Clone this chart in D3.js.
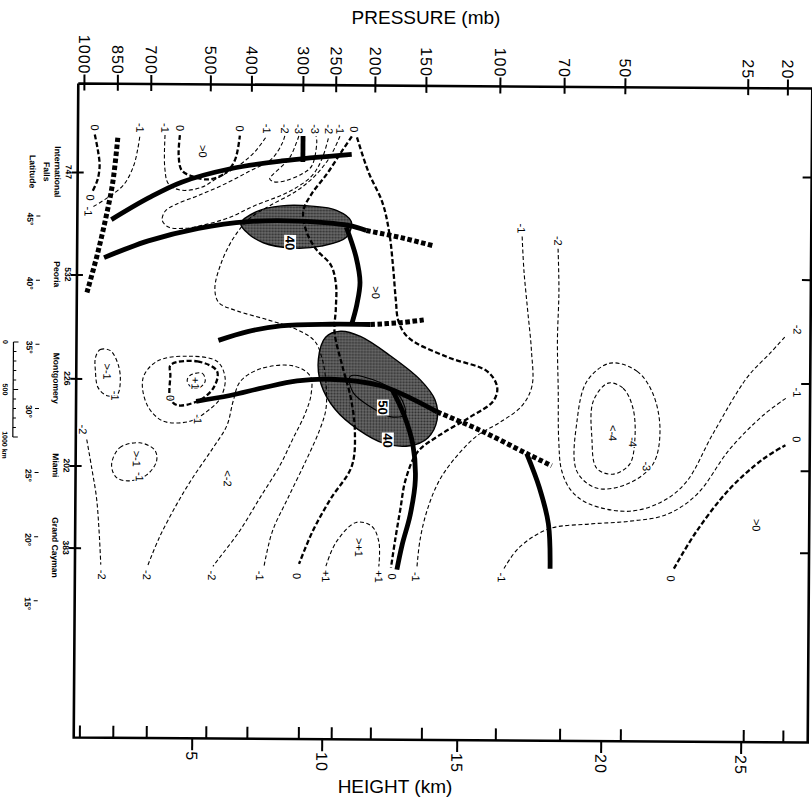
<!DOCTYPE html>
<html>
<head>
<meta charset="utf-8">
<script src="https://cdn.jsdelivr.net/npm/d3@7/dist/d3.min.js"></script>
<style>
  html, body { margin: 0; padding: 0; background: #fff; }
  svg { display: block; }
  text { font-family: "Liberation Sans", Arial, sans-serif; fill: #000; }
</style>
</head>
<body>
<svg id="chart" width="812" height="803"></svg>
<script>
// ---------- Axis data ----------
const pressureLevels   = [1000, 850, 700, 500, 400, 300, 250, 200, 150, 100, 70, 50, 25, 20];
const pressureHeightKm = [1.0, 2.19, 3.38, 5.54, 7.12, 9.1, 10.35, 11.8, 13.69, 16.34, 18.57, 20.7, 25.09, 26.54];
const heightTicksKm    = [5, 10, 15, 20, 25];
const stationIds   = ["747", "532", "226", "202", "383"];
const stationNames = [["International", "Falls"], ["Peoria"], ["Montgomery"], ["Miami"], ["Grand Cayman"]];
const stationLat   = [48.7, 40.7, 32.6, 25.8, 19.4];
const latitudeTicks = [45, 40, 35, 30, 25, 20, 15];
const distanceTicksKm = [0, 500, 1000];
const kmPerDegree = 135;

// ---------- Fronts / tropopause segments: [height km, latitude] ----------
const frontUpper      = [[2.01,45.0],[3.33,46.71],[4.5,47.96],[6.38,49.05],[8.31,49.67],[10.96,50.22]];
const frontUpperBreak = [[9.12,51.62],[9.12,49.6]];
const frontLower      = [[1.76,42.03],[3.33,43.36],[5.12,44.37],[7.04,44.92],[8.96,44.99],[10.85,44.68],[11.52,44.29]];
const frontLowerExt   = [[11.52,44.29],[12.81,43.75],[14.04,43.12]];
const frontLink       = [[10.78,44.53],[11.15,42.19],[11.3,40.24],[11.19,38.52],[11.0,36.96]];
const frontMid        = [[5.92,35.64],[7.04,36.34],[8.31,36.81],[10.22,36.96],[11.7,36.96]];
const frontMidExt     = [[11.7,36.96],[12.81,37.12],[13.67,37.35]];
const frontSouth      = [[5.08,30.88],[6.38,31.35],[7.65,31.97],[8.96,32.52],[10.22,32.67],[12.07,32.21],[13.26,31.19],[14.19,30.18]];
const frontSouthExt   = [[14.19,30.18],[15.73,28.78],[17.36,26.98],[18.23,26.05]];
const tropoDrop       = [[12.52,31.9],[12.96,29.95],[13.3,27.61],[13.4,24.88],[13.22,22.15],[12.93,19.81],[12.74,17.86]];
const tropoSouth      = [[17.36,26.98],[17.81,24.33],[18.13,21.52],[18.2,18.01]];
const surfaceFront    = [[2.22,51.39],[2.05,47.88],[1.8,44.99],[1.51,42.19],[1.16,39.3]];

// ---------- Jet cores (shaded, m/s) ----------
const jetCoreNorth = [[6.75,44.76],[7.35,45.7],[8.31,46.16],[9.46,46.16],[10.41,45.85],[10.96,44.99],[10.78,43.75],[9.85,43.05],[8.69,42.89],[7.62,43.28],[7.04,43.98]];
const jetCoreSouth = [[10.04,35.95],[10.59,36.42],[11.33,36.03],[12.44,34.54],[13.56,32.67],[14.11,31.11],[14.19,29.56],[13.85,28.15],[13.19,27.53],[12.26,27.68],[11.26,28.78],[10.41,30.33],[9.88,32.28],[9.77,34.23]];
const jetCoreSouthInner = [[10.96,32.91],[12.07,32.44],[12.81,31.35],[13.0,29.95],[12.44,29.79],[11.7,30.57],[11.07,31.66]];
const jetLabels = [[8.65,43.28,"40"],[12.18,30.49,"50"],[12.37,27.92,"40"]];

// ---------- Isolines ----------
const iso0_a  = [[1.40,51.62],[1.51,50.45],[1.58,49.21],[1.51,48.11],[1.33,47.18]];
const isoM1_a = [[1.37,46.01],[1.87,46.71],[2.44,47.72],[2.79,49.21],[2.94,50.61],[3.01,51.62]];
const isoM1_b = [[3.90,51.62],[3.90,49.05],[4.04,47.8],[4.5,47.33],[5.23,47.57],[5.81,48.27],[6.65,49.28],[7.27,50.37],[7.73,51.62]];
const iso0_b  = [[4.43,51.62],[4.39,50.06],[4.5,48.89],[4.86,48.43],[5.5,48.19],[6.12,48.66],[6.5,49.67],[6.69,51.62]];
const isoM2_a = [[8.42,51.62],[8.31,51.0],[7.92,49.83],[7.04,48.82],[6.0,47.72],[5.04,46.87],[4.32,46.24],[3.93,45.7],[3.82,44.99],[4.04,44.45],[4.68,44.37],[5.42,44.68],[6.31,45.23],[7.27,46.16],[8.58,47.26],[9.46,48.5],[9.85,49.83],[10.11,51.62]];
const isoM3_a = [[8.96,51.62],[8.88,51.16],[8.58,49.83],[7.92,48.5],[7.85,48.27],[8.0,48.04],[8.42,48.11],[9.08,48.66],[9.46,49.28],[9.65,51.16],[9.62,51.62]];
const isoM1_c = [[10.52,51.62],[10.15,49.99],[9.58,48.5],[8.88,47.33],[7.85,46.16],[7.08,45.15],[6.46,43.59],[6.0,41.64],[5.77,39.69],[5.92,38.6],[6.58,37.98],[7.81,37.27],[8.96,36.5],[9.62,35.64],[9.92,34.23],[10.07,32.28],[10.07,30.33],[9.85,28.78],[9.35,26.44],[8.62,23.32],[8.04,20.74],[7.73,18.01]];
const iso0_c  = [[10.96,51.62],[10.59,50.45],[10.04,48.66],[9.46,47.1],[9.15,45.77],[9.27,44.21],[9.65,42.81],[10.22,41.56],[10.41,40.08],[10.41,38.13],[10.37,36.34],[10.67,33.69],[11.0,31.11],[11.15,28.55],[11.04,25.89],[10.26,23.32],[9.58,20.74],[9.08,18.25]];
const iso0_d  = [[11.15,51.55],[11.59,48.82],[12.11,46.48],[12.37,44.14],[12.52,41.49],[12.63,38.91],[12.74,37.2],[13.11,35.95],[14.56,34.46],[15.97,33.37],[16.32,32.13],[16.18,31.04],[15.38,29.79],[14.3,28.39],[13.48,27.06],[13.04,24.88],[12.85,22.54],[12.67,20.2],[12.52,18.01]];
const isoP1_a = [[10.11,18.09],[10.48,19.96],[11.22,21.52],[11.81,21.21],[12.07,19.96],[12.07,18.09]];
const isoM1_d = [[17.15,43.9],[17.22,41.25],[17.36,38.13],[17.5,35.01],[17.53,32.28],[17.19,30.72],[16.42,29.4],[15.66,28.39],[14.96,26.83],[14.3,24.88],[13.85,22.54],[13.59,20.2],[13.48,18.01]];
const isoM2_b = [[18.4,42.97],[18.44,39.69],[18.4,35.79],[18.44,31.89],[18.47,28.0],[18.58,25.66],[18.92,24.1],[19.55,23.08],[20.96,22.54],[22.14,23.32],[23.0,24.88],[23.93,28.62],[25.15,33.06],[26.0,35.0],[26.56,36.34]];
const isoM1_e = [[16.6,18.01],[17.12,19.65],[18.16,21.13],[19.55,21.52],[20.96,21.76],[22.29,22.3],[23.36,23.86],[24.54,27.45],[25.74,30.1],[26.56,31.43]];
const iso0_e  = [[22.57,18.09],[23.36,20.98],[24.54,24.33],[25.74,26.67],[26.56,27.77]];
const isoM3_b = [[20.25,34.08],[21.21,33.45],[21.79,31.66],[22.04,28.78],[21.79,26.2],[20.86,24.64],[19.79,24.33],[19.1,25.66],[19.1,29.56],[19.44,32.67]];
const isoM4_a = [[20.18,32.52],[20.71,32.13],[21.07,30.57],[21.14,28.0],[20.96,26.2],[20.36,25.42],[19.79,25.89],[19.62,28.23],[19.66,31.11]];
const isoM2_c = [[3.4,18.09],[3.79,20.2],[4.39,22.77],[4.96,24.88],[5.73,27.22],[6.27,29.01],[6.5,30.88],[6.77,32.44],[7.54,33.45],[8.81,33.69],[9.46,32.91],[9.5,31.5],[9.27,29.95],[8.81,28.0],[8.31,25.89],[7.54,23.32],[6.77,20.74],[6.0,18.64],[5.77,18.01]];
const isoM1_f = [[3.18,32.67],[3.68,33.99],[4.75,34.39],[5.88,33.99],[6.19,32.67],[6.0,31.11],[5.5,30.1],[4.86,29.32],[3.9,29.32],[3.33,30.57]];
const iso0_f  = [[4.15,33.69],[5.12,33.99],[5.88,33.22],[5.73,31.89],[5.12,30.88],[4.39,30.57],[4.15,31.11],[4.15,32.91]];
const isoP1_b = [[4.86,32.91],[5.31,33.06],[5.42,32.44],[5.15,31.89],[4.86,32.05],[4.75,32.52]];
const isoM1_g = [[1.48,34.23],[1.65,34.86],[2.01,34.78],[2.29,33.69],[2.37,32.44],[2.26,31.35],[1.9,31.27],[1.58,31.89],[1.48,33.22]];
const isoM1_h = [[2.08,25.89],[2.37,27.22],[3.08,27.61],[3.61,27.06],[3.68,26.2],[3.33,25.11],[2.72,24.64],[2.26,24.88]];
const isoM2_d = [[1.19,27.84],[1.37,25.66],[1.55,23.32],[1.65,20.74],[1.72,18.09]];

// ---------- Isoline labels ----------
const topLabelLat = 52.17;
const topLabels = [[1.40,"0"],[3.01,"-1"],[3.90,"-1"],[4.43,"0"],[6.69,"0"],[7.73,"-1"],[8.42,"-2"],[8.96,"-3"],[9.58,"-3"],[10.11,"-2"],[10.52,"-1"],[11.04,"0"]];
const bottomLabelLat = 17.31;
const bottomLabels = [[1.76,"-2"],[3.36,"-2"],[5.73,"-2"],[7.58,"-1"],[9.0,"0"],[10.11,"+1"],[12.07,"+1"],[12.56,"0"],[13.44,"-1"],[16.52,"-1"],[22.46,"0"]];
const innerLabels = [
  [1.26,46.71,"0"],[1.19,45.62,"-1"],[5.27,50.38,">0"],[11.89,39.46,">0"],
  [17.12,44.53,"-1"],[18.4,43.59,"-2"],[26.97,36.8,"-2"],[26.97,31.89,"-1"],[26.97,28.23,"0"],[25.52,21.52,">0"],
  [20.36,28.62,"<-4"],[21.07,27.92,"-4"],[21.57,26.05,"-3"],
  [1.9,33.14,">-1"],[2.19,31.27,"-1"],[2.97,26.36,">-1"],[3.08,24.96,"-1"],[1.05,28.62,"-2"],
  [4.15,31.11,"0"],[5.15,29.48,"-1"],[5.04,32.28,"+1"],[6.31,24.88,"<-2"],[11.33,19.57,">+1"]
];

// ---------- Setup ----------
const svg = d3.select("#chart");
const x = d3.scaleLinear().domain([0.8, 5, 10, 15, 20, 25, 27.45]).range([76, 194, 324, 459, 603, 743, 810]);
const y = d3.scaleLinear().domain([55.6, 4.6]).range([86, 740]);
const xL = x(0.8), xR = x(27.45), yT = y(55.6), yB = y(4.6);

const defs = svg.append("defs");
const pat = defs.append("pattern").attr("id", "halftone")
  .attr("width", 3).attr("height", 3).attr("patternUnits", "userSpaceOnUse");
pat.append("rect").attr("width", 3).attr("height", 3).attr("fill", "#6c6c6c");
pat.append("circle").attr("cx", 1.5).attr("cy", 1.5).attr("r", 1.1).attr("fill", "#2c2c2c");

// Axis titles
svg.append("text").attr("x", 426).attr("y", 24).attr("text-anchor", "middle")
  .style("font-size", "19px").text("PRESSURE (mb)");
svg.append("text").attr("x", 395).attr("y", 793).attr("text-anchor", "middle")
  .style("font-size", "19px").text("HEIGHT (km)");

const g = svg.append("g").attr("transform", "rotate(0.4 443 413)");

// Frame
g.append("path")
  .attr("d", `M${xL},${yT}V${yB}H${xR}V${yT}M${xL},${yT}H812`)
  .attr("fill", "none").attr("stroke", "#000").attr("stroke-width", 2.6);

// Pressure axis (top)
const gTop = g.append("g").attr("transform", `translate(0,${yT})`)
  .call(d3.axisTop(x).tickValues(pressureHeightKm)
    .tickFormat((d, i) => pressureLevels[i]).tickSizeInner(9).tickSizeOuter(0));
gTop.select(".domain").remove();
gTop.selectAll(".tick line").attr("y1", 7).attr("y2", -9).attr("stroke-width", 2);
gTop.selectAll(".tick text")
  .attr("y", 0).attr("dy", "0.36em").attr("text-anchor", "end")
  .attr("transform", "translate(0,-9) rotate(90)")
  .style("font-size", "16px").style("letter-spacing", "1px");

// Height axis (bottom)
const gBot = g.append("g").attr("transform", `translate(0,${yB})`)
  .call(d3.axisBottom(x).tickValues(heightTicksKm).tickFormat(d3.format("d"))
    .tickSizeInner(12).tickSizeOuter(0));
gBot.select(".domain").remove();
gBot.selectAll(".tick line").attr("stroke-width", 2);
gBot.selectAll(".tick text")
  .attr("y", 0).attr("dy", "0.36em").attr("text-anchor", "start")
  .attr("transform", "translate(0,13) rotate(90)")
  .style("font-size", "16px").style("letter-spacing", "1px");
const gBotP = g.append("g").attr("transform", `translate(0,${yB})`)
  .call(d3.axisBottom(x).tickValues(pressureHeightKm).tickFormat("")
    .tickSizeInner(-12).tickSizeOuter(0));
gBotP.select(".domain").remove();
gBotP.selectAll(".tick line").attr("stroke-width", 2);

// Station ticks (left, crossing frame) and right-side inward ticks
const gLeft = g.append("g").attr("transform", `translate(${xL},0)`)
  .call(d3.axisLeft(y).tickValues(stationLat).tickFormat("").tickSizeInner(6).tickSizeOuter(0));
gLeft.select(".domain").remove();
gLeft.selectAll(".tick line").attr("x1", 6).attr("stroke-width", 2);
const gRight = g.append("g").attr("transform", `translate(${xR},0)`)
  .call(d3.axisRight(y).tickValues(stationLat).tickFormat("").tickSizeInner(-9).tickSizeOuter(0));
gRight.select(".domain").remove();
gRight.selectAll(".tick line").attr("stroke-width", 2);

// Station labels
stationLat.forEach((lat, i) => {
  const t = g.append("text")
    .attr("transform", `translate(67,${y(lat)}) rotate(90)`)
    .attr("text-anchor", "middle")
    .style("font-size", "8.5px").style("font-weight", "bold");
  t.append("tspan").attr("x", 0).attr("dy", "0.35em").text(stationIds[i]);
  stationNames[i].forEach(n => t.append("tspan").attr("x", 0).attr("dy", "11").text(n));
});
g.append("text")
  .attr("transform", `translate(31,${y(stationLat[0])}) rotate(90)`)
  .attr("text-anchor", "middle").attr("dy", "0.35em")
  .style("font-size", "8.5px").style("font-weight", "bold").text("Latitude");

// Latitude column
latitudeTicks.forEach(lat => {
  g.append("text")
    .attr("transform", `translate(29,${y(lat)}) rotate(90)`)
    .attr("text-anchor", "middle").attr("dy", "0.35em")
    .style("font-size", "8.5px").style("font-weight", "bold").text(lat + "°");
  g.append("line").attr("x1", 35).attr("x2", 39).attr("y1", y(lat) - 3).attr("y2", y(lat) - 3)
    .attr("stroke", "#000").attr("stroke-width", 1);
});

// Distance scale bar
const barTopLat = 35.4;
const yDist = d3.scaleLinear().domain([0, 1000])
  .range([y(barTopLat), y(barTopLat - 1000 / kmPerDegree)]);
const barX = 13;
g.append("line").attr("x1", barX).attr("x2", barX).attr("y1", yDist(0)).attr("y2", yDist(1000))
  .attr("stroke", "#000").attr("stroke-width", 1.2);
d3.range(0, 1001, 100).forEach(d => {
  const len = distanceTicksKm.includes(d) ? 5 : 3;
  g.append("line").attr("x1", barX).attr("x2", barX + len).attr("y1", yDist(d)).attr("y2", yDist(d))
    .attr("stroke", "#000").attr("stroke-width", 1);
});
distanceTicksKm.forEach(d => {
  g.append("text")
    .attr("transform", `translate(5,${yDist(d) + (d === 1000 ? 8 : 0)}) rotate(90)`)
    .attr("text-anchor", "middle").attr("dy", "0.35em")
    .style("font-size", "7px").style("font-weight", "bold")
    .text(d === 1000 ? "1000 km" : d);
});

// ---------- Plot content ----------
const open = d3.line().x(d => x(d[0])).y(d => y(d[1])).curve(d3.curveCatmullRom.alpha(0.5));
const closed = d3.line().x(d => x(d[0])).y(d => y(d[1])).curve(d3.curveCatmullRomClosed.alpha(0.5));

// Jet cores
[jetCoreNorth, jetCoreSouth].forEach(pts => {
  g.append("path").attr("d", closed(pts))
    .attr("fill", "url(#halftone)").attr("stroke", "#000").attr("stroke-width", 1.4);
});
g.append("path").attr("d", closed(jetCoreSouthInner))
  .attr("fill", "none").attr("stroke", "#000").attr("stroke-width", 1.1);

// Isolines (0 drawn heavier)
const isolines = [
  {v: 0, pts: iso0_a}, {v: -1, pts: isoM1_a}, {v: -1, pts: isoM1_b}, {v: 0, pts: iso0_b},
  {v: -2, pts: isoM2_a}, {v: -3, pts: isoM3_a}, {v: -1, pts: isoM1_c}, {v: 0, pts: iso0_c},
  {v: 0, pts: iso0_d}, {v: 1, pts: isoP1_a}, {v: -1, pts: isoM1_d}, {v: -2, pts: isoM2_b},
  {v: -1, pts: isoM1_e}, {v: 0, pts: iso0_e}, {v: -3, pts: isoM3_b, loop: true},
  {v: -4, pts: isoM4_a, loop: true}, {v: -2, pts: isoM2_c}, {v: -1, pts: isoM1_f, loop: true},
  {v: 0, pts: iso0_f, loop: true}, {v: 1, pts: isoP1_b, loop: true}, {v: -1, pts: isoM1_g, loop: true},
  {v: -1, pts: isoM1_h, loop: true}, {v: -2, pts: isoM2_d}
];
isolines.forEach(c => {
  g.append("path").attr("d", c.loop ? closed(c.pts) : open(c.pts))
    .attr("fill", "none").attr("stroke", "#000")
    .attr("stroke-width", c.v === 0 ? 2.3 : 1.1)
    .attr("stroke-dasharray", c.v === 0 ? "5,2.5" : "4,2.5");
});

// Fronts and tropopause
[frontUpper, frontUpperBreak, frontLower, frontLink, frontMid, frontSouth, tropoDrop, tropoSouth].forEach(pts => {
  g.append("path").attr("d", open(pts)).attr("fill", "none")
    .attr("stroke", "#000").attr("stroke-width", 4.8);
});
[frontLowerExt, frontMidExt, frontSouthExt, surfaceFront].forEach(pts => {
  g.append("path").attr("d", open(pts)).attr("fill", "none")
    .attr("stroke", "#000").attr("stroke-width", 5).attr("stroke-dasharray", "4.5,2.5");
});

// Labels
function label(km, lat, txt, size) {
  g.append("text")
    .attr("transform", `translate(${x(km)},${y(lat)}) rotate(90)`)
    .attr("text-anchor", "middle").attr("dy", "0.35em")
    .style("font-size", (size || 11) + "px")
    .attr("stroke", "#fff").attr("stroke-width", 2.5).attr("paint-order", "stroke")
    .text(txt);
}
topLabels.forEach(d => label(d[0], topLabelLat, d[1]));
bottomLabels.forEach(d => label(d[0], bottomLabelLat, d[1]));
innerLabels.forEach(d => label(d[0], d[1], d[2]));

jetLabels.forEach(d => {
  const cx = x(d[0]), cy = y(d[1]);
  g.append("rect").attr("x", cx - 6).attr("y", cy - 8).attr("width", 12).attr("height", 16).attr("fill", "#fff");
  g.append("text")
    .attr("transform", `translate(${cx},${cy}) rotate(90)`)
    .attr("text-anchor", "middle").attr("dy", "0.35em")
    .style("font-size", "13px").style("font-weight", "bold")
    .text(d[2]);
});
</script>
</body>
</html>
